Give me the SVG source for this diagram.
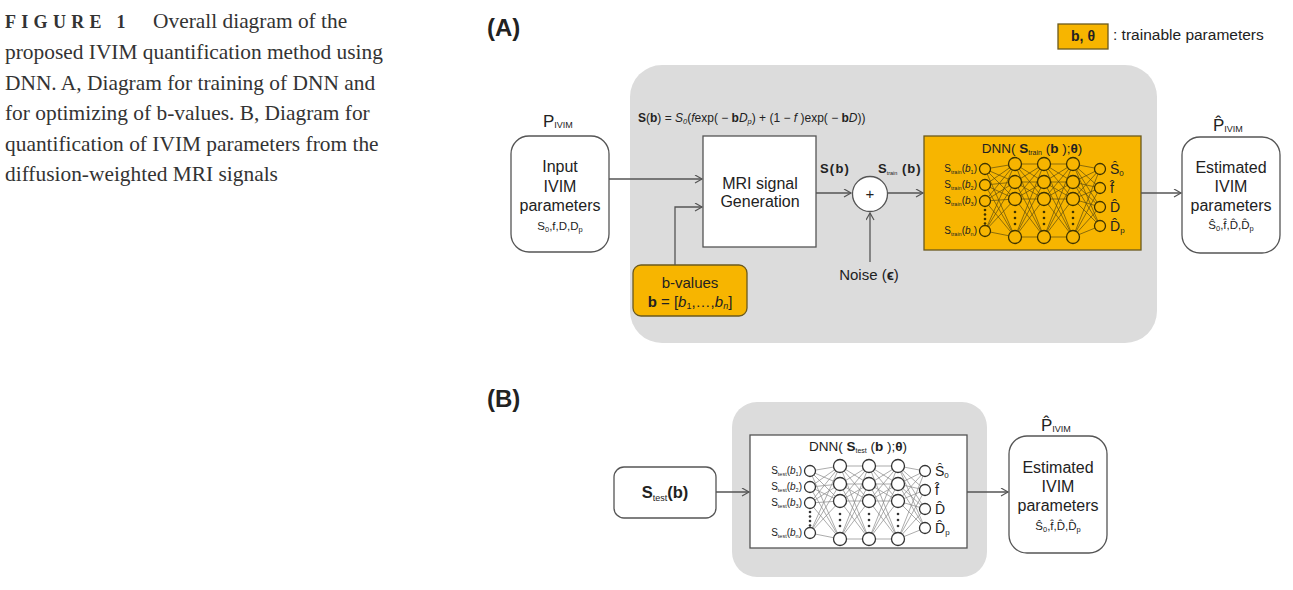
<svg xmlns="http://www.w3.org/2000/svg" xmlns:xlink="http://www.w3.org/1999/xlink" width="1293" height="590" viewBox="0 0 1293 590">
<style>
.cap{font-family:"Liberation Serif","Times New Roman",serif;font-size:21.4px;fill:#333}
.t{font-family:"Liberation Sans",Arial,sans-serif;fill:#222}
.box{fill:#fff;stroke:#555;stroke-width:1.3}
.ybox{fill:#F7B500;stroke:#6b5a1e;stroke-width:1.3}
.panel{fill:#dcdcdc}
.conn{fill:none;stroke:#555;stroke-width:1.3}
.b{font-weight:bold}
.i{font-style:italic}
</style>
<defs>
<marker id="arr" markerWidth="10" markerHeight="10" refX="8" refY="4.5" orient="auto" markerUnits="userSpaceOnUse">
<path d="M1,0.5 L8,4.5 L1,8.5" fill="none" stroke="#555" stroke-width="1.2"/>
</marker>
<g id="net">
<path fill="none" stroke-width="0.7" d="M985 169L1015 164M985 169L1015 182M985 169L1015 199M985 169L1015 237M985 185L1015 164M985 185L1015 182M985 185L1015 199M985 185L1015 237M985 201L1015 164M985 201L1015 182M985 201L1015 199M985 201L1015 237M985 231L1015 164M985 231L1015 182M985 231L1015 199M985 231L1015 237M1015 164L1044 164M1015 164L1044 182M1015 164L1044 199M1015 164L1044 237M1015 182L1044 164M1015 182L1044 182M1015 182L1044 199M1015 182L1044 237M1015 199L1044 164M1015 199L1044 182M1015 199L1044 199M1015 199L1044 237M1015 237L1044 164M1015 237L1044 182M1015 237L1044 199M1015 237L1044 237M1044 164L1073 164M1044 164L1073 182M1044 164L1073 199M1044 164L1073 237M1044 182L1073 164M1044 182L1073 182M1044 182L1073 199M1044 182L1073 237M1044 199L1073 164M1044 199L1073 182M1044 199L1073 199M1044 199L1073 237M1044 237L1073 164M1044 237L1073 182M1044 237L1073 199M1044 237L1073 237M1073 164L1100 169M1073 164L1100 188M1073 164L1100 207M1073 164L1100 226M1073 182L1100 169M1073 182L1100 188M1073 182L1100 207M1073 182L1100 226M1073 199L1100 169M1073 199L1100 188M1073 199L1100 207M1073 199L1100 226M1073 237L1100 169M1073 237L1100 188M1073 237L1100 207M1073 237L1100 226"/>
<g stroke="currentColor" stroke-width="1.3">
<circle cx="985" cy="169" r="5.5"/><circle cx="985" cy="185" r="5.5"/><circle cx="985" cy="201" r="5.5"/><circle cx="985" cy="231" r="5.5"/>
<circle cx="1015" cy="164" r="6.5"/><circle cx="1015" cy="182" r="6.5"/><circle cx="1015" cy="199" r="6.5"/><circle cx="1015" cy="237" r="6.5"/>
<circle cx="1044" cy="164" r="6.5"/><circle cx="1044" cy="182" r="6.5"/><circle cx="1044" cy="199" r="6.5"/><circle cx="1044" cy="237" r="6.5"/>
<circle cx="1073" cy="164" r="6.5"/><circle cx="1073" cy="182" r="6.5"/><circle cx="1073" cy="199" r="6.5"/><circle cx="1073" cy="237" r="6.5"/>
<circle cx="1100" cy="169" r="5.5"/><circle cx="1100" cy="188" r="5.5"/><circle cx="1100" cy="207" r="5.5"/><circle cx="1100" cy="226" r="5.5"/>
</g>
<g fill="currentColor" stroke="none">
<circle cx="985" cy="210" r="1.3"/><circle cx="985" cy="214.5" r="1.3"/><circle cx="985" cy="219" r="1.3"/><circle cx="985" cy="223.5" r="1.3"/>
<circle cx="1015" cy="212" r="1.3"/><circle cx="1015" cy="218" r="1.3"/><circle cx="1015" cy="224" r="1.3"/>
<circle cx="1044" cy="212" r="1.3"/><circle cx="1044" cy="218" r="1.3"/><circle cx="1044" cy="224" r="1.3"/>
<circle cx="1073" cy="212" r="1.3"/><circle cx="1073" cy="218" r="1.3"/><circle cx="1073" cy="224" r="1.3"/>
</g>
</g>
</defs>
<rect width="1293" height="590" fill="#fff"/>

<g id="caption">
<text class="cap" x="5" y="28"><tspan font-weight="bold" font-size="18" letter-spacing="5.3">FIGURE 1</tspan></text>
<text class="cap" x="153" y="28">Overall diagram of the</text>
<text class="cap" x="5" y="59">proposed IVIM quantification method using</text>
<text class="cap" x="5" y="89.5">DNN. A, Diagram for training of DNN and</text>
<text class="cap" x="5" y="120">for optimizing of b-values. B, Diagram for</text>
<text class="cap" x="5" y="150.5">quantification of IVIM parameters from the</text>
<text class="cap" x="5" y="181">diffusion-weighted MRI signals</text>
</g>

<g id="labelA"><text class="t b" x="487" y="36" font-size="24">(A)</text></g>
<g id="labelB"><text class="t b" x="487" y="407" font-size="24">(B)</text></g>

<g id="legend">
<rect x="1058" y="24" width="50" height="25" class="ybox"/>
<text class="t b" x="1083" y="41" font-size="14" text-anchor="middle">b, θ</text>
<text class="t" x="1113" y="40" font-size="15.5">: trainable parameters</text>
</g>

<g id="panelA"><rect x="630" y="65" width="527" height="278" rx="32" class="panel"/></g>
<g id="panelB"><rect x="732" y="402" width="255" height="175" rx="25" class="panel"/></g>

<g id="formula">
<text class="t" x="638" y="122" font-size="12"><tspan class="b">S</tspan>(<tspan class="b">b</tspan>) = <tspan class="i">S</tspan><tspan class="i" font-size="7.5" dy="2">0</tspan><tspan dy="-2">(</tspan><tspan class="i">f</tspan>exp( − <tspan class="b">b</tspan><tspan class="i">D</tspan><tspan class="i" font-size="7.5" dy="2">p</tspan><tspan dy="-2">) + (1 − </tspan><tspan class="i">f</tspan> )exp( − <tspan class="b">b</tspan><tspan class="i">D</tspan>))</text>
</g>

<g id="input">
<text class="t" x="543" y="127" font-size="17">P<tspan font-size="9" dy="1">IVIM</tspan></text>
<rect x="511" y="136" width="98" height="116" rx="18" class="box"/>
<text class="t" x="560" y="172" font-size="16" text-anchor="middle">Input</text>
<text class="t" x="560" y="192" font-size="16" text-anchor="middle">IVIM</text>
<text class="t" x="560" y="211" font-size="16" text-anchor="middle">parameters</text>
<text class="t" x="560" y="230" font-size="11.5" text-anchor="middle">S<tspan font-size="7.5" dy="2">0</tspan><tspan dy="-2">,f,D,D</tspan><tspan font-size="7.5" dy="2">p</tspan></text>
</g>

<g id="mri">
<rect x="703" y="136" width="113" height="111" class="box"/>
<text class="t" x="760" y="189" font-size="16" text-anchor="middle">MRI signal</text>
<text class="t" x="760" y="207" font-size="16" text-anchor="middle">Generation</text>
</g>

<g id="bvalues">
<rect x="633" y="265" width="114" height="51" rx="8" class="ybox"/>
<text class="t" x="690" y="288" font-size="15" text-anchor="middle">b-values</text>
<text class="t" x="690" y="307" font-size="15" text-anchor="middle"><tspan class="b">b</tspan> = [<tspan class="i">b</tspan><tspan font-size="9" dy="2">1</tspan><tspan dy="-2">,…,</tspan><tspan class="i">b</tspan><tspan class="i" font-size="9" dy="2">n</tspan><tspan dy="-2">]</tspan></text>
</g>

<g id="plus">
<circle cx="870" cy="194" r="17.5" fill="#fff" stroke="#555" stroke-width="1.3"/>
<text class="t" x="870" y="199" font-size="15" text-anchor="middle">+</text>
</g>

<g id="noise">
<text class="t" x="869" y="280" font-size="15" text-anchor="middle">Noise (<tspan class="b">ϵ</tspan>)</text>
</g>

<g id="signal-labels">
<text class="t b" x="820" y="173" font-size="13" letter-spacing="1.2">S(b)</text>
<text class="t b" x="878" y="173" font-size="13">S<tspan font-size="5.5" dy="1.5" font-weight="normal">train</tspan><tspan dy="-1.5" letter-spacing="1"> (b)</tspan></text>
</g>

<g id="dnnA">
<rect x="924" y="136" width="217" height="114" class="ybox" stroke="#6b5a1e"/>
<text class="t" x="1032" y="153" font-size="13.5" text-anchor="middle">DNN( <tspan class="b">S</tspan><tspan font-size="7" dy="2">train</tspan><tspan dy="-2"> (</tspan><tspan class="b">b</tspan> );<tspan class="b">θ</tspan>)</text>
<use xlink:href="#net" href="#net" fill="#F7B500" color="#3d3300" stroke="#5c4c10"/>
<g font-size="10" text-anchor="end">
<text class="t" x="977" y="172">S<tspan font-size="5.5" dy="1.5">train</tspan><tspan dy="-1.5">(</tspan><tspan class="i">b</tspan><tspan font-size="5.5" dy="1.5">1</tspan><tspan dy="-1.5">)</tspan></text>
<text class="t" x="977" y="188">S<tspan font-size="5.5" dy="1.5">train</tspan><tspan dy="-1.5">(</tspan><tspan class="i">b</tspan><tspan font-size="5.5" dy="1.5">2</tspan><tspan dy="-1.5">)</tspan></text>
<text class="t" x="977" y="204">S<tspan font-size="5.5" dy="1.5">train</tspan><tspan dy="-1.5">(</tspan><tspan class="i">b</tspan><tspan font-size="5.5" dy="1.5">3</tspan><tspan dy="-1.5">)</tspan></text>
<text class="t" x="977" y="234">S<tspan font-size="5.5" dy="1.5">train</tspan><tspan dy="-1.5">(</tspan><tspan class="i">b</tspan><tspan font-size="5.5" dy="1.5">n</tspan><tspan dy="-1.5">)</tspan></text>
</g>
<g font-size="14">
<text class="t" x="1110" y="174">Ŝ<tspan font-size="8" dy="2">0</tspan></text>
<text class="t" x="1110" y="193">f̂</text>
<text class="t" x="1110" y="212">D̂</text>
<text class="t" x="1110" y="231">D̂<tspan font-size="8" dy="2">p</tspan></text>
</g>
</g>

<g id="estA">
<text class="t" x="1213" y="131" font-size="17">P̂<tspan font-size="9" dy="1">IVIM</tspan></text>
<rect x="1182" y="137" width="98" height="116" rx="18" class="box"/>
<text class="t" x="1231" y="173" font-size="16" text-anchor="middle">Estimated</text>
<text class="t" x="1231" y="192" font-size="16" text-anchor="middle">IVIM</text>
<text class="t" x="1231" y="211" font-size="16" text-anchor="middle">parameters</text>
<text class="t" x="1231" y="229" font-size="11.5" text-anchor="middle">Ŝ<tspan font-size="7.5" dy="2">0</tspan><tspan dy="-2">,f̂,D̂,D̂</tspan><tspan font-size="7.5" dy="2">p</tspan></text>
</g>

<g id="stest">
<rect x="614" y="467" width="102" height="51" rx="10" class="box"/>
<text class="t b" x="665" y="498" font-size="16.5" text-anchor="middle">S<tspan font-size="9" dy="3" font-weight="normal">test</tspan><tspan dy="-3">(b)</tspan></text>
</g>

<g id="dnnB">
<rect x="750" y="435" width="217" height="113" class="box"/>
<text class="t" x="858" y="451" font-size="13.5" text-anchor="middle">DNN( <tspan class="b">S</tspan><tspan font-size="7" dy="2">test</tspan><tspan dy="-2"> (</tspan><tspan class="b">b</tspan> );<tspan class="b">θ</tspan>)</text>
<use xlink:href="#net" href="#net" transform="translate(-175 302)" fill="#fff" color="#333" stroke="#888"/>
<g font-size="10" text-anchor="end">
<text class="t" x="802" y="474">S<tspan font-size="5.5" dy="1.5">test</tspan><tspan dy="-1.5">(</tspan><tspan class="i">b</tspan><tspan font-size="5.5" dy="1.5">1</tspan><tspan dy="-1.5">)</tspan></text>
<text class="t" x="802" y="490">S<tspan font-size="5.5" dy="1.5">test</tspan><tspan dy="-1.5">(</tspan><tspan class="i">b</tspan><tspan font-size="5.5" dy="1.5">2</tspan><tspan dy="-1.5">)</tspan></text>
<text class="t" x="802" y="506">S<tspan font-size="5.5" dy="1.5">test</tspan><tspan dy="-1.5">(</tspan><tspan class="i">b</tspan><tspan font-size="5.5" dy="1.5">3</tspan><tspan dy="-1.5">)</tspan></text>
<text class="t" x="802" y="536">S<tspan font-size="5.5" dy="1.5">test</tspan><tspan dy="-1.5">(</tspan><tspan class="i">b</tspan><tspan font-size="5.5" dy="1.5">n</tspan><tspan dy="-1.5">)</tspan></text>
</g>
<g font-size="14">
<text class="t" x="935" y="476">Ŝ<tspan font-size="8" dy="2">0</tspan></text>
<text class="t" x="935" y="495">f̂</text>
<text class="t" x="935" y="514">D̂</text>
<text class="t" x="935" y="533">D̂<tspan font-size="8" dy="2">p</tspan></text>
</g>
</g>

<g id="estB">
<text class="t" x="1041" y="431" font-size="17">P̂<tspan font-size="9" dy="1">IVIM</tspan></text>
<rect x="1009" y="436" width="98" height="117" rx="18" class="box"/>
<text class="t" x="1058" y="473" font-size="16" text-anchor="middle">Estimated</text>
<text class="t" x="1058" y="492" font-size="16" text-anchor="middle">IVIM</text>
<text class="t" x="1058" y="511" font-size="16" text-anchor="middle">parameters</text>
<text class="t" x="1058" y="530" font-size="11.5" text-anchor="middle">Ŝ<tspan font-size="7.5" dy="2">0</tspan><tspan dy="-2">,f̂,D̂,D̂</tspan><tspan font-size="7.5" dy="2">p</tspan></text>
</g>

<g id="connectors">
<path class="conn" d="M609 179H702" marker-end="url(#arr)"/>
<path class="conn" d="M675 265V207H702" marker-end="url(#arr)"/>
<path class="conn" d="M816 193H851" marker-end="url(#arr)"/>
<path class="conn" d="M870 262V213" marker-end="url(#arr)"/>
<path class="conn" d="M888 193H923" marker-end="url(#arr)"/>
<path class="conn" d="M1141 193H1181" marker-end="url(#arr)"/>
<path class="conn" d="M716 492H749" marker-end="url(#arr)"/>
<path class="conn" d="M967 492H1008" marker-end="url(#arr)"/>
</g>
</svg>
